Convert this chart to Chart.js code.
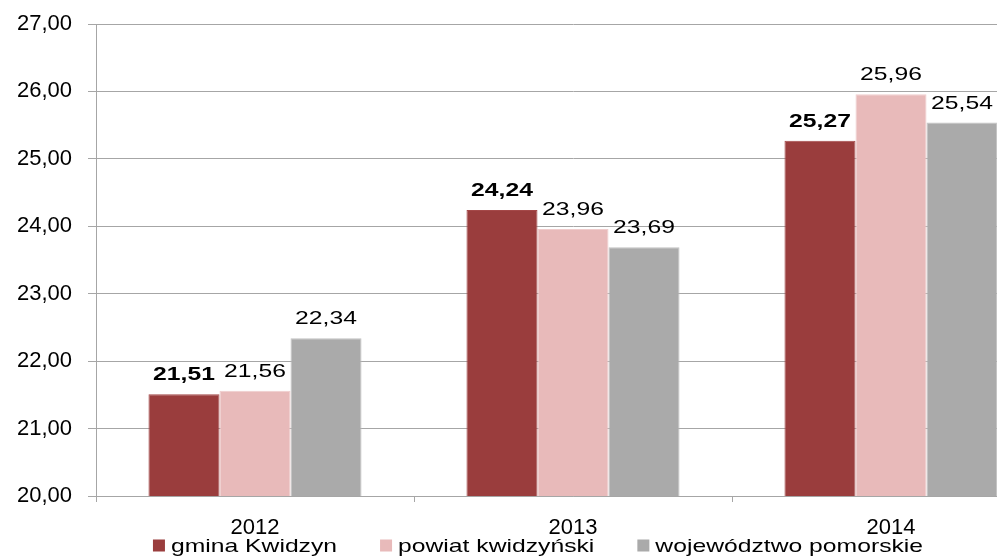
<!DOCTYPE html>
<html>
<head>
<meta charset="utf-8">
<script src="https://cdn.jsdelivr.net/npm/chart.js@4.4.1/dist/chart.umd.min.js"></script>
<style>
  html, body { margin: 0; padding: 0; background: #fff; width: 997px; height: 556px; overflow: hidden; }
  #wrap { width: 1050px; height: 556px; }
</style>
</head>
<body>
<div id="wrap"><canvas id="c" width="1050" height="556"></canvas></div>
<script>
// ---- data ----
const categories = ['2012', '2013', '2014'];
const seriesNames = ['gmina Kwidzyn', 'powiat kwidzyński', 'województwo pomorskie'];
const gminaKwidzyn = [21.51, 24.24, 25.27];
const powiatKwidzynski = [21.56, 23.96, 25.96];
const wojewodztwoPomorskie = [22.34, 23.69, 25.54];
const yMin = 20;
const yMax = 27;
const yStep = 1;

const FONT = '"Liberation Sans", Arial, Helvetica, sans-serif';
const STRETCH = 1.3;   // the reference text is drawn horizontally widened
const fmt = v => v.toFixed(2).replace('.', ',');

function wideText(ctx, text, x, y, align) {
  const w = ctx.measureText(text).width * STRETCH;
  const left = align === 'center' ? x - w / 2 : x;
  ctx.save();
  ctx.translate(left, y);
  ctx.scale(STRETCH, 1);
  ctx.textAlign = 'left';
  ctx.fillText(text, 0, 0);
  ctx.restore();
  return w;
}

const valueLabels = {
  id: 'valueLabels',
  afterDatasetsDraw(chart) {
    const ctx = chart.ctx;
    chart.data.datasets.forEach((ds, i) => {
      const meta = chart.getDatasetMeta(i);
      meta.data.forEach((bar, j) => {
        ctx.save();
        ctx.font = (i === 0 ? 'bold ' : '') + '19px ' + FONT;
        ctx.fillStyle = '#000';
        ctx.textBaseline = 'middle';
        wideText(ctx, fmt(ds.data[j]), bar.x, bar.y - 19, 'center');
        ctx.restore();
      });
    });
  }
};

const bottomLegend = {
  id: 'bottomLegend',
  afterDraw(chart) {
    const ctx = chart.ctx;
    const box = 12, boxGap = 6, itemGap = 43, centerX = 538, centerY = chart.height - 10.5;
    ctx.save();
    ctx.font = '19px ' + FONT;
    const items = chart.data.datasets.map(ds => ({
      text: ds.label, color: ds.backgroundColor,
      w: box + boxGap + ctx.measureText(ds.label).width * STRETCH
    }));
    const total = items.reduce((s, it) => s + it.w, 0) + itemGap * (items.length - 1);
    let x = centerX - total / 2;
    ctx.textBaseline = 'middle';
    items.forEach(it => {
      ctx.fillStyle = it.color;
      ctx.fillRect(x, centerY - box / 2, box, box);
      ctx.fillStyle = '#000';
      wideText(ctx, it.text, x + box + boxGap, centerY + 1, 'left');
      x += it.w + itemGap;
    });
    ctx.restore();
  }
};

new Chart(document.getElementById('c'), {
  type: 'bar',
  data: {
    labels: categories,
    datasets: [
      { label: seriesNames[0], data: gminaKwidzyn, backgroundColor: '#9A3D3D',
        borderColor: '#A44848', borderWidth: 1, borderSkipped: 'bottom' },
      { label: seriesNames[1], data: powiatKwidzynski, backgroundColor: '#E8BABA',
        borderColor: '#F0CDCD', borderWidth: 1, borderSkipped: 'bottom' },
      { label: seriesNames[2], data: wojewodztwoPomorskie, backgroundColor: '#AAAAAA',
        borderColor: '#C2C2C2', borderWidth: 1, borderSkipped: 'bottom' }
    ]
  },
  options: {
    responsive: false,
    animation: false,
    devicePixelRatio: 1,
    layout: { padding: { top: 24, right: 0, bottom: 16, left: 0 } },
    datasets: { bar: { barPercentage: 1.0, categoryPercentage: 0.67 } },
    plugins: { legend: { display: false }, tooltip: { enabled: false } },
    scales: {
      x: {
        grid: { display: true, drawOnChartArea: false, color: '#A6A6A6', tickLength: 6, offset: true },
        border: { color: '#A6A6A6', width: 1 },
        ticks: { color: '#000', font: { family: FONT, size: 22 }, padding: 13 },
        afterFit(scale) { scale.height = 44; scale.paddingLeft = 0; scale.paddingRight = 0; }
      },
      y: {
        min: yMin, max: yMax,
        grid: { color: '#A6A6A6', tickLength: 8 },
        border: { color: '#A6A6A6', width: 1 },
        ticks: { stepSize: yStep, color: '#000', font: { family: FONT, size: 22 }, padding: 16,
                 callback: v => fmt(v) },
        afterFit(scale) { scale.width = 96; scale.paddingTop = 0; scale.paddingBottom = 0; }
      }
    }
  },
  plugins: [valueLabels, bottomLegend]
});
</script>
</body>
</html>
